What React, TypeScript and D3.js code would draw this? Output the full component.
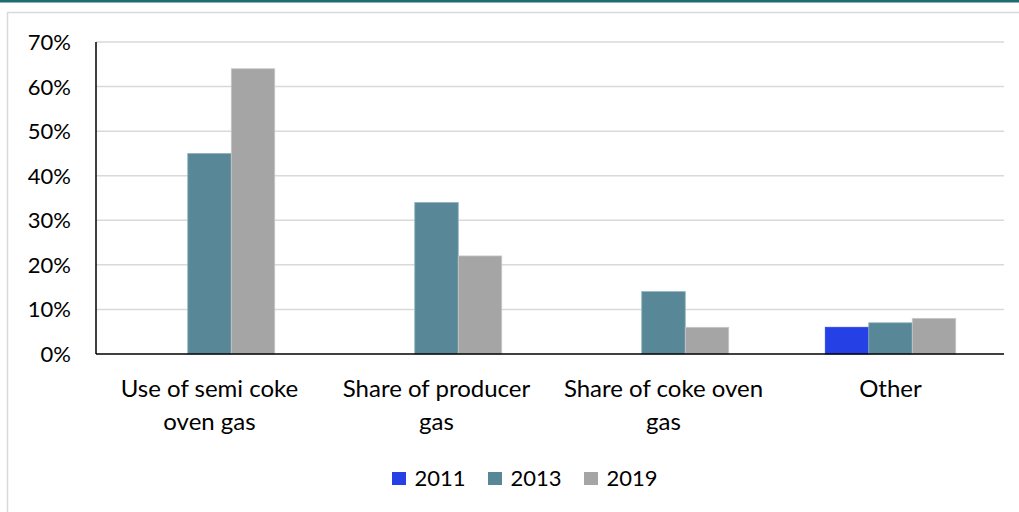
import React from "react";
import * as d3 from "d3";

const categories = [
  ["Use of semi coke", "oven gas"],
  ["Share of producer", "gas"],
  ["Share of coke oven", "gas"],
  ["Other"],
];
const seriesNames = ["2011", "2013", "2019"];
const values2011 = [0, 0, 0, 6];
const values2013 = [45, 34, 14, 7];
const values2019 = [64, 22, 6, 8];
const yTicks = [0, 10, 20, 30, 40, 50, 60, 70];

const colors = ["#2541e6", "#588897", "#a5a5a5"];
const strokes = ["#2541e6", "#8fb3bd", "#c9c9c9"];

export default function App() {
  const W = 1019, H = 512;
  const left = 96, right = 1004, top = 42, bottom = 354;
  const font = "Lato, 'Open Sans', sans-serif";
  const x = d3.scaleBand<number>().domain(d3.range(categories.length)).range([left, right]);
  const y = d3.scaleLinear().domain([0, 70]).range([bottom, top]);
  const barW = 43.5;
  const series = [values2011, values2013, values2019];
  const legendX = [392, 488, 584];
  return (
    <svg width={W} height={H} style={{ position: "absolute", left: 0, top: 0, background: "#fff" }}>
      <rect x={0} y={0} width={W} height={H} fill="#fff" />
      <rect x={0} y={0} width={W} height={2.5} fill="#1f6b70" />
      <rect x={7.5} y={12.5} width={W + 10} height={H} fill="none" stroke="#d9d9d9" strokeWidth={1.5} />
      {yTicks.map((t) => (
        <g key={t}>
          {t > 0 && (
            <line x1={left} x2={right} y1={y(t)} y2={y(t)} stroke="#d9d9d9" strokeWidth={1.5} />
          )}
          <text x={71} y={y(t) + 8} textAnchor="end" fontFamily={font} fontSize={22} fill="#000">
            {t}%
          </text>
        </g>
      ))}
      {series.map((vals, si) =>
        vals.map((v, ci) => {
          const cx = (x(ci) as number) + x.bandwidth() / 2;
          const x0 = cx - barW * 1.5 + si * barW;
          if (v <= 0) return null;
          return (
            <rect
              key={si + "-" + ci}
              x={x0}
              y={y(v)}
              width={barW}
              height={y(0) - y(v)}
              fill={colors[si]}
              stroke={strokes[si]}
              strokeWidth={0.75}
            />
          );
        })
      )}
      <line x1={left} x2={left} y1={top} y2={bottom} stroke="#000" strokeWidth={1.5} />
      <line x1={left} x2={right} y1={bottom} y2={bottom} stroke="#000" strokeWidth={1.5} />
      {categories.map((lines, ci) => {
        const cx = (x(ci) as number) + x.bandwidth() / 2;
        return (
          <text key={ci} textAnchor="middle" fontFamily={font} fontSize={24} fill="#000">
            {lines.map((l, li) => (
              <tspan key={li} x={cx} y={396.5 + li * 33}>
                {l}
              </tspan>
            ))}
          </text>
        );
      })}
      {seriesNames.map((n, i) => (
        <g key={n}>
          <rect x={legendX[i]} y={472} width={14} height={13} fill={colors[i]} />
          <text x={legendX[i] + 22.5} y={486} fontFamily={font} fontSize={22} fill="#000">
            {n}
          </text>
        </g>
      ))}
    </svg>
  );
}
